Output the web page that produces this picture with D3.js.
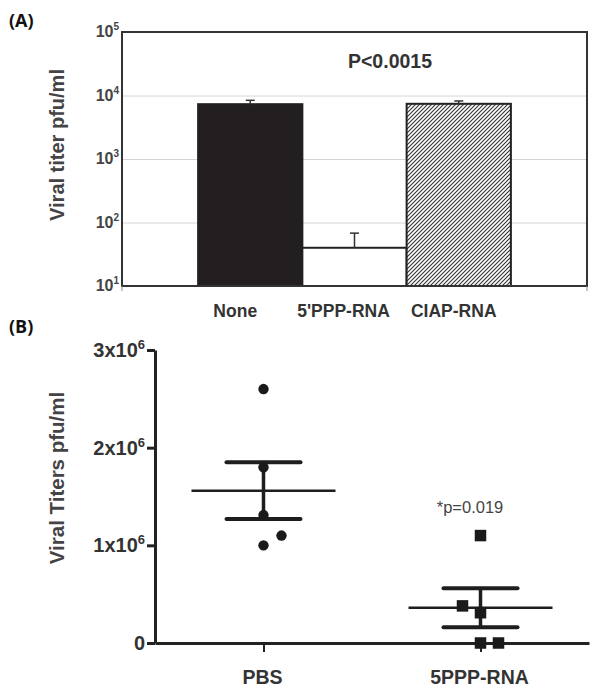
<!DOCTYPE html>
<html>
<head>
<meta charset="utf-8">
<script src="https://cdn.jsdelivr.net/npm/d3@7"></script>
<style>
  body { margin: 0; background: #fff; }
  svg { font-family: "Liberation Sans", Arial, sans-serif; }
</style>
</head>
<body>
<svg width="600" height="696"></svg>
<script>
// Panel A data
const groupsA = ['None', "5'PPP-RNA", 'CIAP-RNA'];
const titerA = [7300, 40, 7400];
const errTopA = [8400, 68, 8200];
const logTicksA = [1, 2, 3, 4, 5];

// Panel B data
const groupsB = ['PBS', '5PPP-RNA'];
const pbsValues = [2.6e6, 1.8e6, 1.31e6, 1.0e6, 1.1e6];
const pbsSide = [0, 0, 0, 0, 1];
const rnaValues = [1.1e6, 0.38e6, 0.31e6, 0, 0];
const rnaSide = [0, -1, 0, 0, 1];
const meanB = [1.56e6, 0.36e6];
const semB = [0.29e6, 0.20e6];
const ticksB = [0, 1e6, 2e6, 3e6];

const svg = d3.select('svg');

// ---------- Panel A ----------
const a = { left: 122, right: 587, top: 32, bottom: 286 };

const defs = svg.append('defs');
const pat = defs.append('pattern')
  .attr('id', 'hatch')
  .attr('patternUnits', 'userSpaceOnUse')
  .attr('width', 4).attr('height', 4);
pat.append('rect').attr('width', 4).attr('height', 4).attr('fill', '#fff');
pat.append('path')
  .attr('d', 'M-1,1 l2,-2 M0,4 l4,-4 M3,5 l2,-2')
  .attr('stroke', '#333').attr('stroke-width', 1.1);

const xA = d3.scaleBand()
  .domain(groupsA)
  .range([a.left, a.right])
  .paddingInner(0)
  .paddingOuter(0.73);

const yA = d3.scaleLog()
  .domain([10, 1e5])
  .range([a.bottom, a.top]);

// gridlines
svg.append('g')
  .attr('transform', `translate(${a.left},0)`)
  .call(d3.axisLeft(yA).tickValues([1e2, 1e3, 1e4]).tickSize(-(a.right - a.left)).tickFormat(''))
  .call(g => g.select('.domain').remove())
  .selectAll('.tick line')
  .attr('stroke', '#d4d4d4');

// y tick labels 10^n
svg.append('g')
  .selectAll('text')
  .data(logTicksA)
  .join('text')
  .attr('x', a.left - 3)
  .attr('y', d => yA(Math.pow(10, d)) + 5)
  .attr('text-anchor', 'end')
  .attr('fill', '#444')
  .attr('font-size', 16)
  .attr('font-weight', 'bold')
  .each(function (d) {
    const t = d3.select(this);
    t.append('tspan').text('10');
    t.append('tspan').attr('font-size', 10).attr('dy', -7).text(d);
  });

const fills = ['#231f20', '#fff', 'url(#hatch)'];

svg.append('g')
  .selectAll('rect')
  .data(groupsA)
  .join('rect')
  .attr('x', d => xA(d))
  .attr('y', (d, i) => yA(titerA[i]))
  .attr('width', xA.bandwidth())
  .attr('height', (d, i) => a.bottom - yA(titerA[i]))
  .attr('fill', (d, i) => fills[i])
  .attr('stroke', '#222')
  .attr('stroke-width', 2);

// error bars
const errA = svg.append('g').attr('stroke', '#333').attr('stroke-width', 1.5);
groupsA.forEach((d, i) => {
  const cx = xA(d) + xA.bandwidth() / 2;
  errA.append('line')
    .attr('x1', cx).attr('x2', cx)
    .attr('y1', yA(titerA[i])).attr('y2', yA(errTopA[i]));
  errA.append('line')
    .attr('x1', cx - 4.5).attr('x2', cx + 4.5)
    .attr('y1', yA(errTopA[i])).attr('y2', yA(errTopA[i]));
});

// frame
svg.append('rect')
  .attr('x', a.left).attr('y', a.top)
  .attr('width', a.right - a.left).attr('height', a.bottom - a.top)
  .attr('fill', 'none').attr('stroke', '#333').attr('stroke-width', 2);

// small ticks below the frame corners
svg.append('g')
  .attr('stroke', '#888').attr('stroke-width', 1)
  .selectAll('line')
  .data([a.left, a.right])
  .join('line')
  .attr('x1', d => d).attr('x2', d => d)
  .attr('y1', a.bottom).attr('y2', a.bottom + 5);

// x labels
svg.append('g')
  .selectAll('text')
  .data(groupsA)
  .join('text')
  .attr('x', (d, i) => xA(d) + xA.bandwidth() / 2 - [15, 11, 5][i])
  .attr('y', 317)
  .attr('text-anchor', 'middle')
  .attr('font-size', 17.5)
  .attr('font-weight', 'bold')
  .attr('fill', '#333')
  .text(d => d);

svg.append('text')
  .attr('x', 390).attr('y', 68)
  .attr('text-anchor', 'middle')
  .attr('font-size', 19.5).attr('font-weight', 'bold').attr('fill', '#333')
  .text('P<0.0015');

svg.append('text')
  .attr('transform', `translate(64,145) rotate(-90)`)
  .attr('text-anchor', 'middle')
  .attr('font-size', 20).attr('font-weight', 'bold').attr('fill', '#444')
  .text('Viral titer pfu/ml');

svg.append('text')
  .attr('x', 9).attr('y', 27)
  .attr('font-family', '"Open Sans", sans-serif')
  .attr('font-size', 18).attr('font-weight', 'bold').attr('fill', '#111')
  .text('(A)');

// ---------- Panel B ----------
const b = { left: 155, right: 589, top: 350, bottom: 643 };

const xB = d3.scalePoint()
  .domain(groupsB)
  .range([b.left, b.right])
  .padding(0.5);

const yB = d3.scaleLinear()
  .domain([0, 3e6])
  .range([b.bottom, b.top]);

// y axis
const yAxisB = svg.append('g')
  .attr('transform', `translate(${b.left},0)`)
  .call(d3.axisLeft(yB).tickValues(ticksB).tickSize(8).tickSizeOuter(0).tickFormat(''));
yAxisB.select('.domain').attr('stroke', '#222').attr('stroke-width', 3);
yAxisB.selectAll('.tick line').attr('stroke', '#222').attr('stroke-width', 3);

svg.append('g')
  .selectAll('text')
  .data(ticksB)
  .join('text')
  .attr('x', b.left - 10)
  .attr('y', d => yB(d) + 7)
  .attr('text-anchor', 'end')
  .attr('font-size', 20)
  .attr('font-weight', 'bold')
  .attr('fill', '#333')
  .each(function (d) {
    const t = d3.select(this);
    if (d === 0) { t.text('0'); return; }
    t.append('tspan').text(`${d / 1e6}x10`);
    t.append('tspan').attr('font-size', 13).attr('dy', -8).text('6');
  });

// x axis
const xAxisB = svg.append('g')
  .attr('transform', `translate(0,${b.bottom})`)
  .call(d3.axisBottom(xB).tickSize(9).tickSizeOuter(0).tickFormat(''));
xAxisB.select('.domain').attr('stroke', '#222').attr('stroke-width', 3);
xAxisB.selectAll('.tick line').attr('stroke', '#222').attr('stroke-width', 2);

svg.append('g')
  .selectAll('text')
  .data(groupsB)
  .join('text')
  .attr('x', d => xB(d) - 1)
  .attr('y', 684)
  .attr('text-anchor', 'middle')
  .attr('font-size', 19.5)
  .attr('font-weight', 'bold')
  .attr('fill', '#333')
  .text(d => d);

// mean and SEM
const statsG = svg.append('g').attr('stroke', '#1e1e1e');
groupsB.forEach((g, i) => {
  const cx = xB(g);
  statsG.append('line')
    .attr('x1', cx - 72).attr('x2', cx + 72)
    .attr('y1', yB(meanB[i])).attr('y2', yB(meanB[i]))
    .attr('stroke-width', 2.5);
  statsG.append('line')
    .attr('x1', cx).attr('x2', cx)
    .attr('y1', yB(meanB[i] + semB[i])).attr('y2', yB(meanB[i] - semB[i]))
    .attr('stroke-width', 3.5);
  [meanB[i] + semB[i], meanB[i] - semB[i]].forEach(v => {
    statsG.append('line')
      .attr('x1', cx - 37).attr('x2', cx + 37)
      .attr('y1', yB(v)).attr('y2', yB(v))
      .attr('stroke-width', 4)
      .attr('stroke-linecap', 'round');
  });
});

// points
const dotStep = 18;
svg.append('g')
  .selectAll('circle')
  .data(pbsValues)
  .join('circle')
  .attr('cx', (d, i) => xB('PBS') + pbsSide[i] * dotStep)
  .attr('cy', d => yB(d))
  .attr('r', 5.2)
  .attr('fill', '#1a1a1a');

const sq = 11.5;
svg.append('g')
  .selectAll('rect')
  .data(rnaValues)
  .join('rect')
  .attr('x', (d, i) => xB('5PPP-RNA') + rnaSide[i] * dotStep - sq / 2)
  .attr('y', d => yB(d) - sq / 2)
  .attr('width', sq).attr('height', sq)
  .attr('fill', '#1a1a1a');

svg.append('text')
  .attr('x', 470).attr('y', 513)
  .attr('text-anchor', 'middle')
  .attr('font-size', 16.5).attr('fill', '#444')
  .text('*p=0.019');

svg.append('text')
  .attr('transform', `translate(64,478) rotate(-90)`)
  .attr('text-anchor', 'middle')
  .attr('font-size', 20.5).attr('font-weight', 'bold').attr('fill', '#444')
  .text('Viral Titers pfu/ml');

svg.append('text')
  .attr('x', 9).attr('y', 333)
  .attr('font-family', '"Open Sans", sans-serif')
  .attr('font-size', 18).attr('font-weight', 'bold').attr('fill', '#111')
  .text('(B)');
</script>
</body>
</html>
